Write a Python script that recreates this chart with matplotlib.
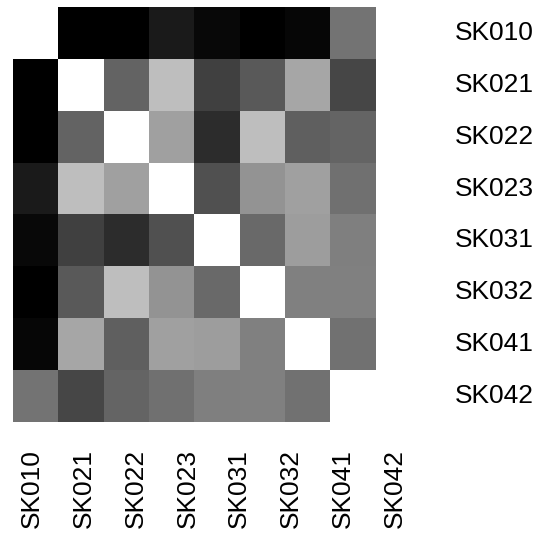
import numpy as np
import matplotlib
matplotlib.use("Agg")
import matplotlib.pyplot as plt

labels = ["SK010", "SK021", "SK022", "SK023", "SK031", "SK032", "SK041", "SK042"]
# grey level (0 = black, 255 = white)
row_SK010 = [255, 0, 0, 26, 8, 0, 6, 115]
row_SK021 = [0, 255, 99, 190, 64, 90, 166, 70]
row_SK022 = [0, 99, 255, 160, 45, 190, 95, 100]
row_SK023 = [26, 190, 160, 255, 80, 148, 160, 112]
row_SK031 = [8, 64, 45, 80, 255, 105, 157, 127]
row_SK032 = [0, 90, 190, 148, 105, 255, 128, 128]
row_SK041 = [6, 166, 95, 160, 157, 128, 255, 114]
row_SK042 = [115, 70, 100, 112, 127, 128, 114, 255]

matrix = np.array([row_SK010, row_SK021, row_SK022, row_SK023,
                   row_SK031, row_SK032, row_SK041, row_SK042], dtype=float)

W, H = 550, 539
fig = plt.figure(figsize=(W / 100, H / 100), dpi=100)
ax = fig.add_axes([13 / W, 1 - 422 / H, 362 / W, 415 / H])
ax.imshow(matrix, cmap="gray", vmin=0, vmax=255, aspect="auto",
          interpolation="nearest")
ax.set_xticks([])
ax.set_yticks([])
for s in ax.spines.values():
    s.set_visible(False)

font = dict(family=["Liberation Sans", "DejaVu Sans"], fontsize=19, color="black")

# right-side row labels
for i, lab in enumerate(labels):
    ax.text(1.0 + 80 / 362, i, lab, transform=ax.get_yaxis_transform(),
            ha="left", va="center", **font)

# bottom column labels (rotated), spaced as in the reference
for i, lab in enumerate(labels):
    x = (32 + i * 51.8) / W
    fig.text(x, 1 - 528 / H, lab, rotation=90, ha="center", va="bottom", **font)

fig.savefig("out.png", dpi=100)
